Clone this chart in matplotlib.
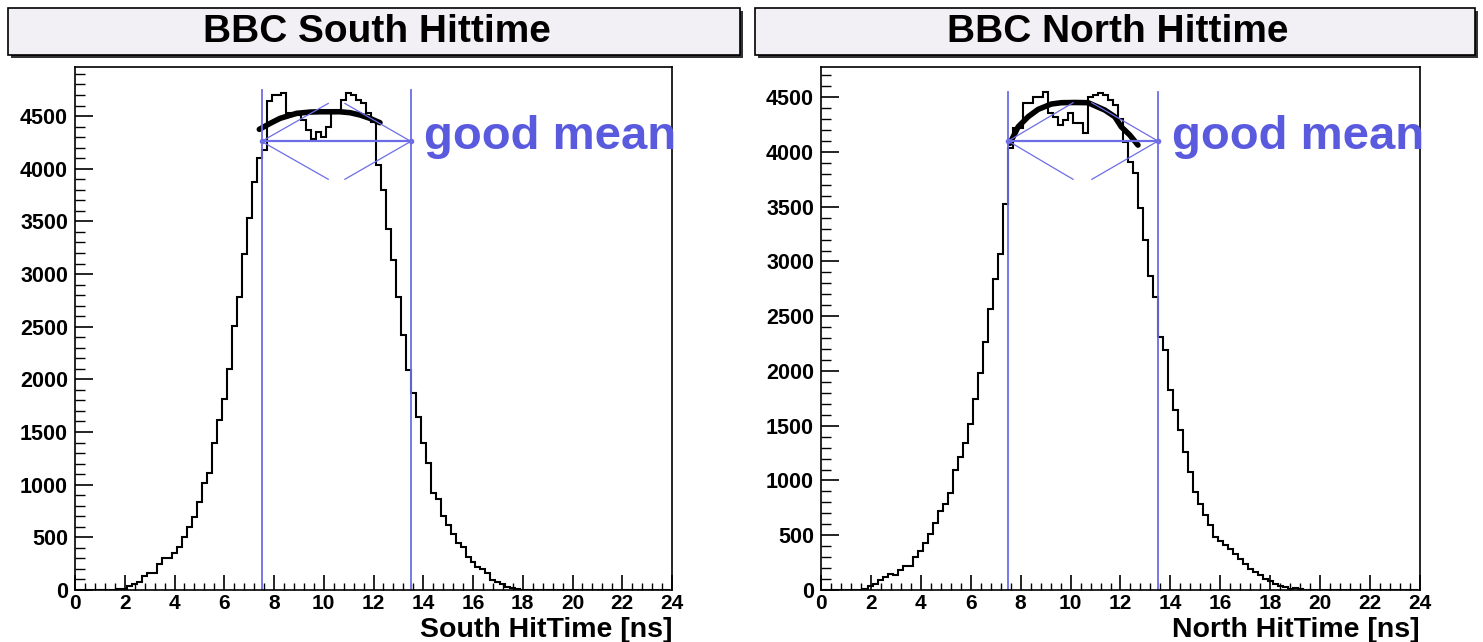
import numpy as np
import matplotlib
matplotlib.use("Agg")
import matplotlib.pyplot as plt
from matplotlib.patches import Rectangle
from matplotlib.ticker import MultipleLocator

plt.rcParams['font.family'] = ['Liberation Sans', 'DejaVu Sans']
plt.rcParams['font.weight'] = 'bold'

# 120 bins of 0.2 ns, centred on 0.0, 0.2, ... 23.8
bin_edges = np.arange(121) * 0.2 - 0.1

south_counts = [0] * 9 + [
    5, 12, 40, 57, 80, 133, 165, 165, 247, 300,
    300, 348, 411, 503, 601, 693, 838, 1012, 1110, 1400,
    1610, 1810, 2100, 2510, 2780, 3190, 3530, 3870, 4100, 4180,
    4640, 4700, 4700, 4720, 4525, 4525, 4510, 4462, 4367, 4278,
    4351, 4304, 4399, 4525, 4560, 4652, 4720, 4700, 4652, 4620,
    4525, 4446, 4035, 3798, 3427, 3133, 2785, 2421, 2089, 1867,
    1645, 1392, 1203, 924, 861, 703, 617, 532, 443, 411,
    316, 269, 221, 196, 158, 95, 80, 57, 32, 20,
    8] + [0] * 30

north_counts = [0] * 9 + [
    5, 41, 57, 87, 117, 148, 133, 185, 215, 215,
    300, 355, 428, 514, 611, 718, 789, 886, 1100, 1216,
    1344, 1512, 1740, 1984, 2261, 2563, 2837, 3069, 3526, 4033,
    4216, 4216, 4444, 4444, 4505, 4505, 4550, 4353, 4322, 4246,
    4292, 4353, 4261, 4261, 4170, 4505, 4520, 4541, 4520, 4474,
    4429, 4300, 4093, 3910, 3804, 3484, 3195, 2866, 2676, 2311,
    2189, 1830, 1647, 1458, 1260, 1077, 894, 788, 681, 590,
    483, 452, 407, 377, 330, 285, 240, 194, 163, 133,
    102, 80, 57, 41, 25, 11, 15, 5] + [0] * 23

# fitted curves
south_fit_x = [7.41, 7.84, 8.24, 8.91, 9.45, 9.85, 10.65, 11.06, 11.46, 11.86, 12.26]
south_fit_y = [4374, 4430, 4478, 4526, 4538, 4541, 4541, 4532, 4510, 4478, 4437]
north_fit_x = [7.57, 7.9, 8.3, 8.7, 9.23, 9.63, 10.17, 10.7, 11.37, 11.77, 12.03, 12.37, 12.7]
north_fit_y = [4079, 4230, 4322, 4389, 4438, 4450, 4452, 4450, 4383, 4322, 4230, 4155, 4063]

# window cuts and mean marker
cut_lo, cut_hi = 7.5, 13.5
panels = [
    dict(title='BBC South Hittime', xlabel='South HitTime [ns]', counts=south_counts,
         fit_x=south_fit_x, fit_y=south_fit_y, ymax=4966, cut_top=4747,
         arrow_y=4260, arrow_dy=360, tips=(10.18, 10.85), text_y=4300,
         rect=[75 / 1483, 52 / 642, 597 / 1483, 523 / 642], box=(8, 740)),
    dict(title='BBC North Hittime', xlabel='North HitTime [ns]', counts=north_counts,
         fit_x=north_fit_x, fit_y=north_fit_y, ymax=4776, cut_top=4550,
         arrow_y=4100, arrow_dy=350, tips=(10.1, 10.85), text_y=4136,
         rect=[821 / 1483, 52 / 642, 599 / 1483, 523 / 642], box=(755, 1475)),
]

line_blue = '#6d6de6'
text_blue = '#5a5ade'

fig = plt.figure(figsize=(14.83, 6.42), dpi=100)

for p in panels:
    ax = fig.add_axes(p['rect'])
    ax.stairs(p['counts'], bin_edges, color='black', lw=1.5)
    ax.plot(p['fit_x'], p['fit_y'], color='black', lw=4, solid_capstyle='round')

    # cut lines
    for xc in (cut_lo, cut_hi):
        ax.plot([xc, xc], [0, p['cut_top']], color=line_blue, lw=1.3)

    # double arrow between the cuts
    ya, dy = p['arrow_y'], p['arrow_dy']
    tl, tr = p['tips']
    ax.plot([cut_lo, cut_hi], [ya, ya], color=line_blue, lw=1.6)
    for sgn in (1, -1):
        ax.plot([cut_lo, tl], [ya, ya + sgn * dy], color=line_blue, lw=0.9)
        ax.plot([cut_hi, tr], [ya, ya + sgn * dy], color=line_blue, lw=0.9)
    ax.plot([cut_lo, cut_hi], [ya, ya], ls='none', marker='o', ms=3, color=line_blue)

    ax.text(14.05, p['text_y'], 'good mean', color=text_blue, fontsize=34,
            fontweight='bold', ha='left', va='center')

    ax.set_xlim(0, 24)
    ax.set_ylim(0, p['ymax'])
    ax.xaxis.set_major_locator(MultipleLocator(2))
    ax.xaxis.set_minor_locator(MultipleLocator(0.4))
    ax.yaxis.set_major_locator(MultipleLocator(500))
    ax.yaxis.set_minor_locator(MultipleLocator(100))
    ax.tick_params(axis='x', which='major', direction='in', length=11, width=1.2,
                   labelsize=15, pad=3, top=False)
    ax.tick_params(axis='x', which='minor', direction='in', length=5, width=1.0, top=False)
    ax.tick_params(axis='y', which='major', direction='in', length=13, width=1.2,
                   labelsize=15.5, pad=5, right=False)
    ax.tick_params(axis='y', which='minor', direction='in', length=7, width=1.0, right=False)
    for lab in ax.get_xticklabels() + ax.get_yticklabels():
        lab.set_fontweight('bold')
    for s in ax.spines.values():
        s.set_linewidth(1.2)

    ax.text(1.0, -0.077, p['xlabel'], transform=ax.transAxes, ha='right', va='center',
            fontsize=20.5, fontweight='bold')

    # title box with shadow
    x0, x1 = p['box']
    W, H = 1483.0, 642.0
    fig.patches.append(Rectangle(((x0 + 3) / W, 1 - 58 / H), (x1 - x0) / W, 47 / H,
                                 transform=fig.transFigure, facecolor='#333333',
                                 edgecolor='none', zorder=0))
    fig.patches.append(Rectangle((x0 / W, 1 - 55 / H), (x1 - x0) / W, 47 / H,
                                 transform=fig.transFigure, facecolor='#f3f0f5',
                                 edgecolor='black', lw=1.2, zorder=1))
    fig.text((x0 + x1) / 2 / W + 0.002, 1 - 32 / H, p['title'], ha='center', va='center',
             fontsize=28, fontweight='bold', zorder=2)

fig.savefig('out.png', dpi=100)
